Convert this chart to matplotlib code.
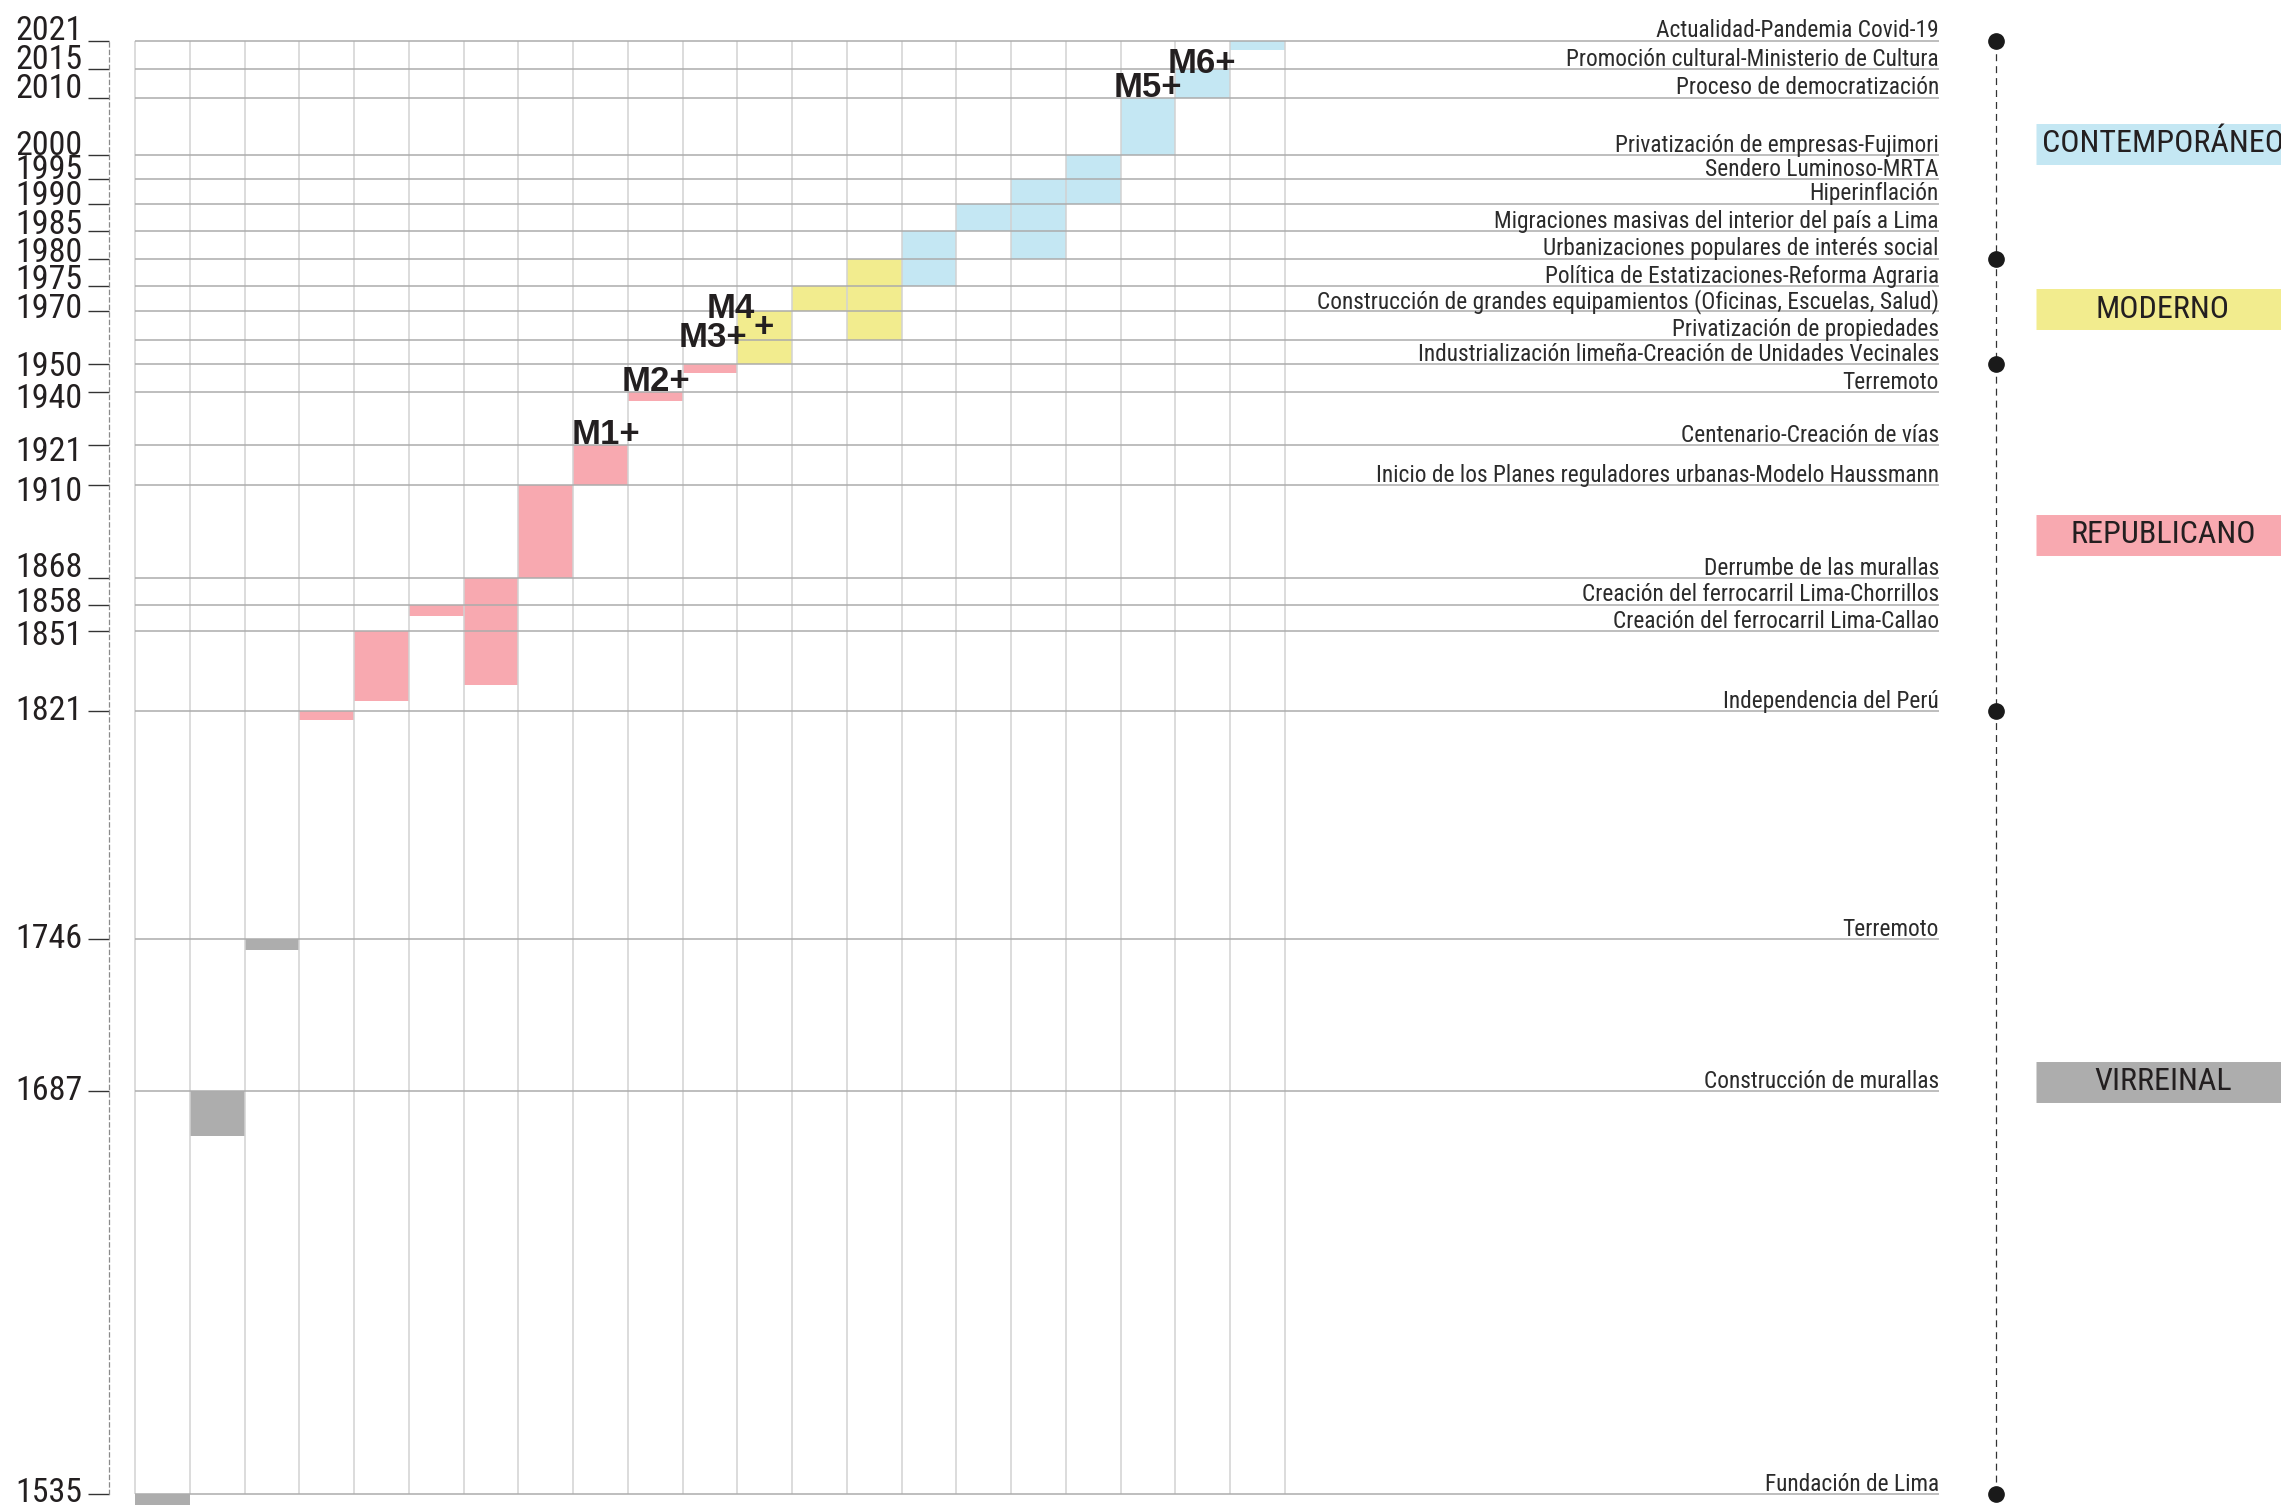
import numpy as np
import matplotlib
matplotlib.use('Agg')
import matplotlib.pyplot as plt
from matplotlib import font_manager

avail = {f.name for f in font_manager.fontManager.ttflist}
COND = next((n for n in ['Roboto Condensed', 'Archivo Narrow', 'PT Sans Narrow',
                         'Asap Condensed'] if n in avail), 'DejaVu Sans')
plt.rcParams['font.family'] = [COND, 'DejaVu Sans']
plt.rcParams['lines.scale_dashes'] = False

# hand drawn time scale of the original: year -> distance from the top (px)
SCALE_YEARS = [1535, 1687, 1746, 1821, 1851, 1858, 1868, 1910, 1921, 1940,
               1950, 1960, 1970, 1975, 1980, 1985, 1990, 1995, 2000, 2010, 2015, 2021]
SCALE_POS = [1494, 1091.3, 939.3, 711.3, 631, 604.7, 578.3, 485.3, 445.3, 392.3,
             364.3, 339.7, 311.3, 286, 258.7, 231, 203.7, 179.3, 155.3, 97.7, 69.3, 40.7]

TICK_YEARS = [1535, 1687, 1746, 1821, 1851, 1858, 1868, 1910, 1921, 1940,
              1950, 1970, 1975, 1980, 1985, 1990, 1995, 2000, 2010, 2015, 2021]

EVENT_YEARS = [2021, 2015, 2010, 2000, 1995, 1990, 1985, 1980, 1975, 1970, 1960,
               1950, 1940, 1921, 1910, 1868, 1858, 1851, 1821, 1746, 1687, 1535]
EVENT_LABELS = [
    'Actualidad-Pandemia Covid-19',
    'Promoción cultural-Ministerio de Cultura',
    'Proceso de democratización',
    'Privatización de empresas-Fujimori',
    'Sendero Luminoso-MRTA',
    'Hiperinflación',
    'Migraciones masivas del interior del país a Lima',
    'Urbanizaciones populares de interés social',
    'Política de Estatizaciones-Reforma Agraria',
    'Construcción de grandes equipamientos (Oficinas, Escuelas, Salud)',
    'Privatización de propiedades',
    'Industrialización limeña-Creación de Unidades Vecinales',
    'Terremoto',
    'Centenario-Creación de vías',
    'Inicio de los Planes reguladores urbanas-Modelo Haussmann',
    'Derrumbe de las murallas',
    'Creación del ferrocarril Lima-Chorrillos',
    'Creación del ferrocarril Lima-Callao',
    'Independencia del Perú',
    'Terremoto',
    'Construcción de murallas',
    'Fundación de Lima',
]

# one bar per column, from year to year
BAR_START = [1531, 1670, 1742, 1818, 1825, 1855, 1831, 1868, 1910, 1937, 1947,
             1950, 1970, 1960, 1975, 1985, 1980, 1990, 2000, 2010, 2019]
BAR_END = [1535, 1687, 1746, 1821, 1851, 1858, 1868, 1910, 1921, 1940, 1950,
           1970, 1975, 1980, 1985, 1990, 1995, 2000, 2010, 2015, 2021]
BAR_PERIOD = ['V', 'V', 'V', 'R', 'R', 'R', 'R', 'R', 'R', 'R', 'R',
              'M', 'M', 'M', 'C', 'C', 'C', 'C', 'C', 'C', 'C']

PERIOD_KEYS = ['C', 'M', 'R', 'V']
PERIOD_NAMES = ['CONTEMPORÁNEO', 'MODERNO', 'REPUBLICANO', 'VIRREINAL']
PERIOD_COLORS = {'C': '#c4e7f3', 'M': '#f2ec8e', 'R': '#f8a9b0', 'V': '#adadad'}
PERIOD_BOUNDS = [1535, 1821, 1950, 1980, 2021]

# milestone labels: text, column, baseline year
MILESTONES = [('M1+', 7.97, 1921.5), ('M2+', 8.88, 1940.6), ('M3+', 9.92, 1956.9),
              ('M4', 10.43, 1967.5), ('+', 11.3, 1960.8), ('M5+', 17.88, 2010.1),
              ('M6+', 18.86, 2014.4)]

# layout (px of the 2281x1505 canvas)
W, H = 2281, 1505
COL_W = 54.76
GRID_LEFT = 135
AX_LEFT = 109
LINE_END = (1939 - GRID_LEFT) / COL_W
TL_X = (1996 - GRID_LEFT) / COL_W
BOX_X0 = (2036 - GRID_LEFT) / COL_W
BOX_TXT = (2163 - GRID_LEFT) / COL_W
PERIOD_LABEL_Y = [2002.0, 1970.45, 1887.6, 1690.8]
# vertical nudge of the year labels (px, + = down), same order as TICK_YEARS
TICK_NUDGE = [0, 0, 0, 0, 5.7, -0.7, -9.9, 6.8, 6.8, 7.6,
              3.2, -1.9, -5.5, -5.5, -5.5, -7, -8.9, -9.2, -8.4, -8.4, -9.2]

yk = np.array(SCALE_YEARS, float)
pk = -np.array(SCALE_POS, float)
lo = (pk[1] - pk[0]) / (yk[1] - yk[0])
hi = (pk[-1] - pk[-2]) / (yk[-1] - yk[-2])
yk_e = np.r_[yk[0] - 500, yk, yk[-1] + 500]
pk_e = np.r_[pk[0] - 500 * lo, pk, pk[-1] + 500 * hi]


def fwd(y):
    return np.interp(np.asarray(y, float), yk_e, pk_e)


def inv(p):
    return np.interp(np.asarray(p, float), pk_e, yk_e)


fig = plt.figure(figsize=(W / 100, H / 100), dpi=100)
ax = fig.add_axes([AX_LEFT / W, 0, 1 - AX_LEFT / W, 1])
ax.set_yscale('function', functions=(fwd, inv))
ax.set_ylim(float(inv(-H)), float(inv(0)))
ax.set_xlim(-(GRID_LEFT - AX_LEFT) / COL_W, (W - GRID_LEFT) / COL_W)

cols = np.arange(len(BAR_START))
ax.bar(cols + 0.5, np.array(BAR_END) - np.array(BAR_START), bottom=BAR_START,
       width=1.0, color=[PERIOD_COLORS[p] for p in BAR_PERIOD], zorder=1)

ax.vlines(np.arange(len(BAR_START) + 1), 1535, 2021, color='#d2d2d2', lw=1.1, zorder=2)
ax.hlines(EVENT_YEARS, 0, LINE_END, color='#acacac', lw=1.1, zorder=2)

for yr, txt in zip(EVENT_YEARS, EVENT_LABELS):
    ax.annotate(txt, xy=(LINE_END, yr), xytext=(0, 2.4), textcoords='offset points',
                ha='right', va='baseline', fontsize=16.8, color='#2b2b2b')

for txt, cx, cy in MILESTONES:
    ax.text(cx, cy, txt, ha='left', va='baseline', fontsize=25, fontweight='bold',
            family=['Liberation Sans', 'DejaVu Sans'], color='#231f20', zorder=4)

# period timeline on the right
ax.plot([TL_X, TL_X], [PERIOD_BOUNDS[0], PERIOD_BOUNDS[-1]], color='#333333',
        lw=0.9, ls=(0, (5, 3.6)), zorder=2)
ax.plot([TL_X] * len(PERIOD_BOUNDS), PERIOD_BOUNDS, 'o', ms=11, color='#1a1a1a',
        zorder=3, clip_on=False)

for key, name, yc in zip(PERIOD_KEYS, PERIOD_NAMES, PERIOD_LABEL_Y):
    ax.plot([BOX_X0, BOX_X0 + 6], [yc, yc], lw=29.5, color=PERIOD_COLORS[key],
            solid_capstyle='butt', zorder=1)
    ax.text(BOX_TXT, yc, name, ha='center', va='center', fontsize=23,
            color='#231f20', zorder=4)

# left year axis: dashed spine, outward ticks, labels drawn beside the ticks
for s in ['top', 'right', 'bottom']:
    ax.spines[s].set_visible(False)
ax.spines['left'].set_bounds(1535, 2021)
ax.spines['left'].set_linestyle((0, (3, 2.4)))
ax.spines['left'].set_color('#8a8a8a')
ax.spines['left'].set_linewidth(0.9)
ax.set_xticks([])
ax.set_yticks(TICK_YEARS)
ax.yaxis.set_minor_locator(matplotlib.ticker.NullLocator())
ax.tick_params(axis='y', direction='out', length=15, width=1.0, color='#333333',
               labelleft=False)
for yr, dy in zip(TICK_YEARS, TICK_NUDGE):
    ax.annotate(str(yr), xy=(0, yr), xycoords=ax.get_yaxis_transform(),
                xytext=(-19, 0.4 - dy * 0.72), textcoords='offset points',
                ha='right', va='center', fontsize=24.5, color='#231f20')

fig.savefig('out.png', dpi=100)
